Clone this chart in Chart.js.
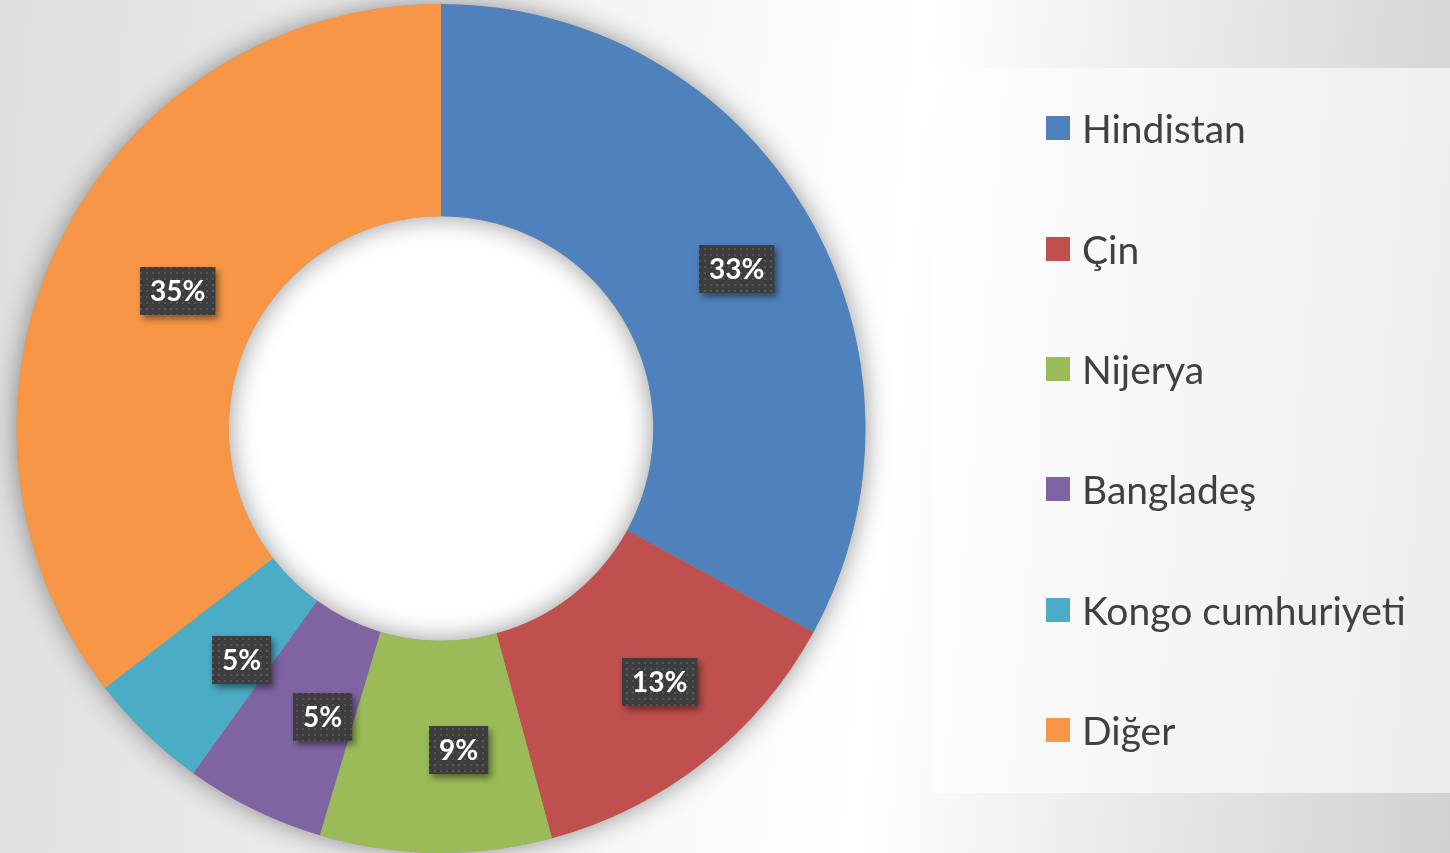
<!DOCTYPE html>
<html>
<head>
<meta charset="utf-8">
<script src="https://cdn.jsdelivr.net/npm/chart.js@4.4.1/dist/chart.umd.min.js"></script>
<style>
  html, body { margin:0; padding:0; width:1450px; height:853px; overflow:hidden; }
  body {
    background: linear-gradient(95deg, #dedede 0%, #eeeeee 30%, #fbfbfb 52%, #ffffff 61%, #eaeaea 78%, #d1d1d1 100%);
    font-family: Lato, "Open Sans", sans-serif;
  }
  #wrap { position:absolute; left:0; top:0; width:1450px; height:853px; }
  #legend {
    position:absolute; left:932px; top:68px; width:518px; height:725px;
    background: rgba(255,255,255,0.6);
    margin:0; padding:0; list-style:none; box-sizing:border-box;
  }
  #legend li {
    height:120.4px; display:flex; align-items:center; padding-left:114px;
    font-size:39px; color:#404040;
  }
  #legend li span.box { width:24px; height:24px; margin-right:12px; flex:none; }
</style>
</head>
<body>
<div id="wrap"><canvas id="c"></canvas></div>
<ul id="legend"></ul>
<script>
const categories = ["Hindistan", "Çin", "Nijerya", "Bangladeş", "Kongo cumhuriyeti", "Diğer"];
const shares = [32.9, 12.8, 8.8, 5.3, 4.6, 35.4];
const colors = ["#4F81BD", "#C0504D", "#9BBB59", "#8064A2", "#4BACC6", "#F79646"];

// soft shadow under the ring (falls outside and into the hole)
const ringShadow = {
  id: 'ringShadow',
  beforeDatasetsDraw(chart) {
    const meta = chart.getDatasetMeta(0);
    const a = meta.data[0];
    if (!a) return;
    const ctx = chart.ctx;
    const { x, y, outerRadius, innerRadius } = a.getProps(['x','y','outerRadius','innerRadius'], true);
    ctx.save();
    ctx.fillStyle = '#ffffff';
    ctx.beginPath(); ctx.arc(x, y, innerRadius + 2, 0, Math.PI * 2); ctx.fill();
    ctx.shadowColor = 'rgba(0,0,0,0.42)';
    ctx.shadowBlur = 26;
    ctx.fillStyle = '#9a9a9a';
    ctx.beginPath();
    ctx.arc(x, y, outerRadius, 0, Math.PI * 2);
    ctx.arc(x, y, innerRadius, 0, Math.PI * 2, true);
    ctx.fill();
    ctx.restore();
  }
};

let dotPattern = null;
function getPattern(ctx) {
  if (dotPattern) return dotPattern;
  const p = document.createElement('canvas');
  p.width = 6; p.height = 6;
  const pc = p.getContext('2d');
  pc.fillStyle = '#3d3d3d'; pc.fillRect(0, 0, 6, 6);
  pc.fillStyle = '#565656'; pc.fillRect(2, 2, 2, 2);
  dotPattern = ctx.createPattern(p, 'repeat');
  return dotPattern;
}

const dataLabels = {
  id: 'dataLabels',
  afterDatasetsDraw(chart) {
    const ctx = chart.ctx;
    const ds = chart.data.datasets[0];
    const total = ds.data.reduce((s, v) => s + v, 0);
    const meta = chart.getDatasetMeta(0);
    meta.data.forEach((arc, i) => {
      const pos = arc.getCenterPoint(true);
      const txt = Math.round(ds.data[i] / total * 100) + '%';
      ctx.save();
      ctx.font = 'bold 28px Lato, "Open Sans", sans-serif';
      const w = ctx.measureText(txt).width + 20;
      const h = 48;
      const cx = pos.x + 22, cy = pos.y + 3;
      const bx = Math.round(cx - w / 2), by = Math.round(cy - h / 2);
      ctx.shadowColor = 'rgba(0,0,0,0.45)';
      ctx.shadowBlur = 7;
      ctx.shadowOffsetX = 3;
      ctx.shadowOffsetY = 4;
      ctx.fillStyle = getPattern(ctx);
      ctx.fillRect(bx, by, w, h);
      ctx.shadowColor = 'transparent';
      ctx.fillStyle = '#ffffff';
      ctx.textAlign = 'center';
      ctx.textBaseline = 'middle';
      ctx.fillText(txt, bx + w / 2, by + h / 2 + 1);
      ctx.restore();
    });
  }
};

const chart = new Chart(document.getElementById('c'), {
  type: 'doughnut',
  data: {
    labels: categories,
    datasets: [{
      data: shares,
      backgroundColor: colors,
      borderWidth: 0,
      hoverOffset: 0
    }]
  },
  options: {
    responsive: true,
    maintainAspectRatio: false,
    animation: false,
    cutout: '50%',
    layout: { padding: { left: 16, top: 4, right: 584, bottom: 0 } },
    plugins: { legend: { display: false }, tooltip: { enabled: false } },
    events: []
  },
  plugins: [ringShadow, dataLabels]
});

const ul = document.getElementById('legend');
categories.forEach((name, i) => {
  const li = document.createElement('li');
  const b = document.createElement('span');
  b.className = 'box';
  b.style.background = colors[i];
  li.appendChild(b);
  li.appendChild(document.createTextNode(name));
  ul.appendChild(li);
});
</script>
</body>
</html>
